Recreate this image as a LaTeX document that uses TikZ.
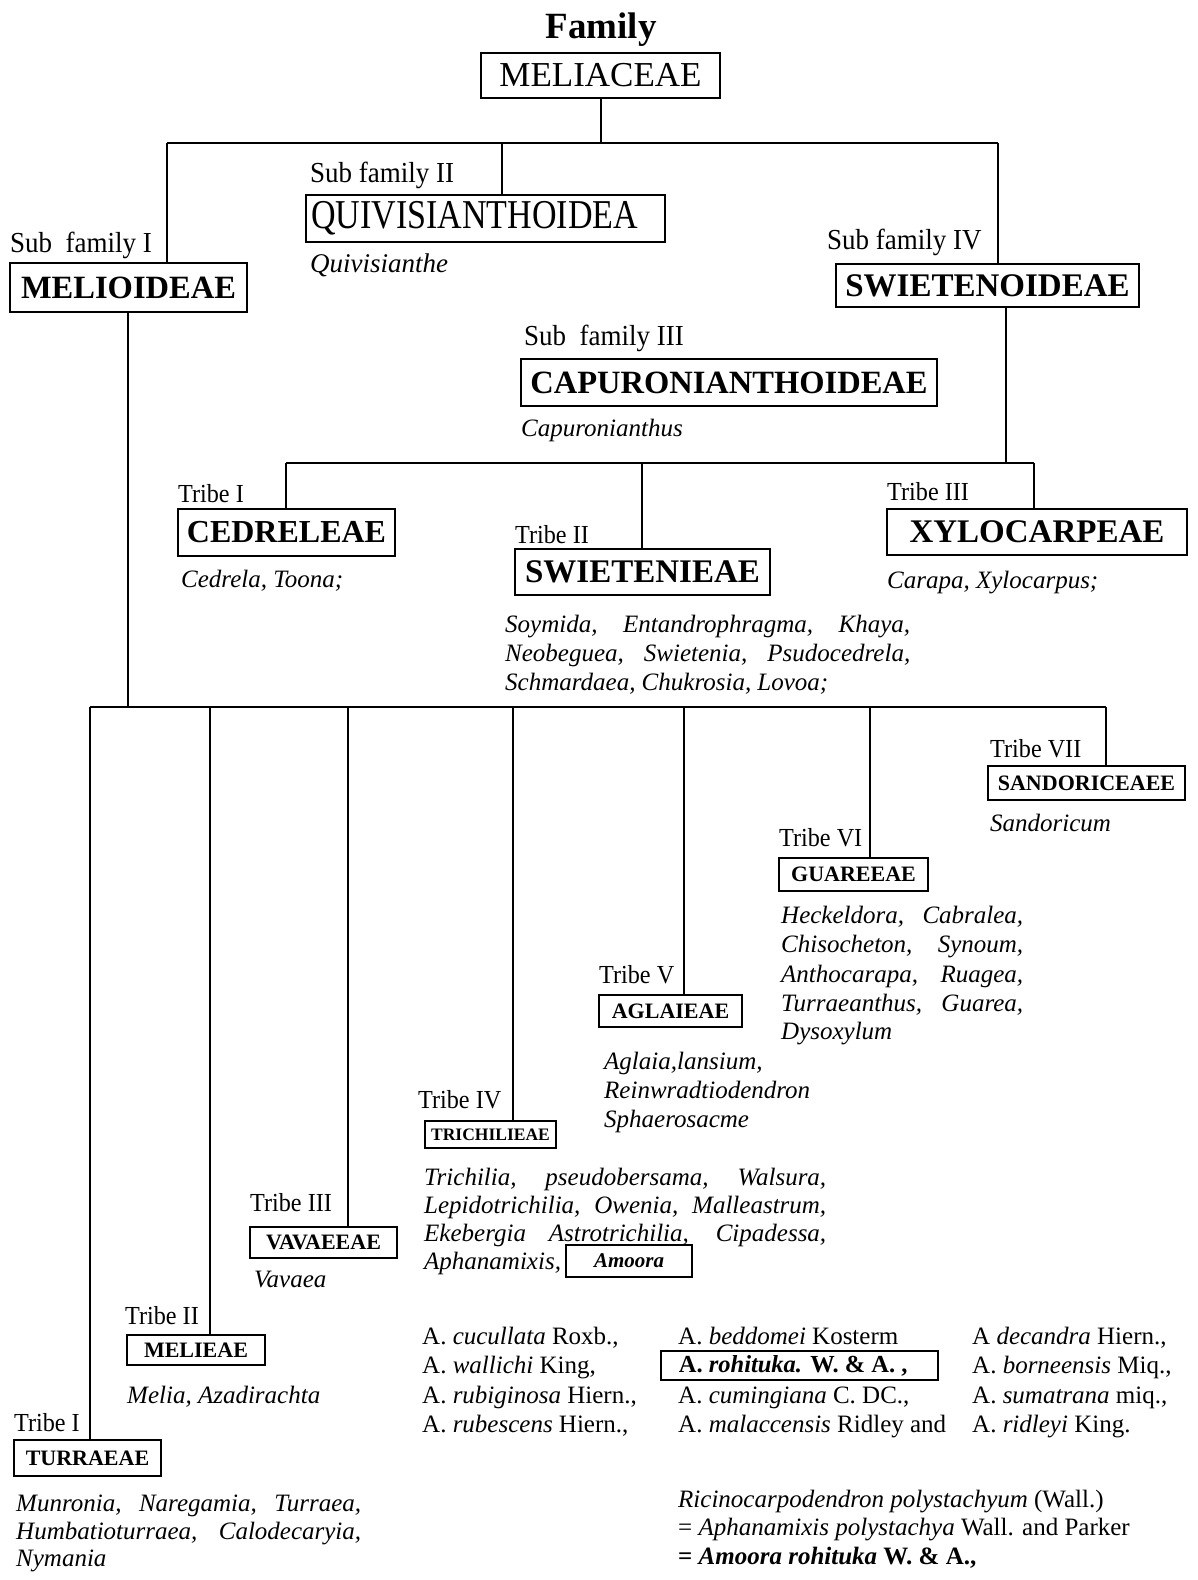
\documentclass[tikz,border=0pt]{standalone}
\usepackage{fontspec}
\setmainfont{Liberation Serif}
\newfontfamily\condA[FakeStretch=0.93]{Liberation Serif}
\newfontfamily\condB[FakeStretch=0.83]{Liberation Serif}
\newcommand\fsz[1]{\fontsize{#1}{#1}\selectfont}
\newcommand\justln[2]{\makebox[#1pt][s]{#2}}
\tikzset{
  conn/.style={line width=1.5pt},
  bar/.style={line width=2.2pt},
  namebox/.style={draw, line width=1.8pt, inner sep=0pt},
  lbl/.style={anchor=base west, inner sep=0pt},
  sublbl/.style={lbl, font=\condA\fsz{29}},
  tribelbl/.style={lbl, font=\condA\fsz{26}},
  gen/.style={lbl, font=\fsz{25}\itshape},
  spc/.style={lbl, font=\fsz{25}},
}
\begin{document}
\begin{tikzpicture}[x=1pt,y=-1pt]
\useasboundingbox (0,0) rectangle (1198,1580);
\fill[white] (0,0) rectangle (1198,1580);

% ---- family
\node[anchor=base, inner sep=0pt, font=\fsz{37}\bfseries] (family) at (601,38) {Family};
\node[namebox, minimum width=239pt, minimum height=45pt, font=\fsz{35}] (meliaceae) at (600.5,75.5) {MELIACEAE};

% ---- subfamilies
\node[namebox, minimum width=237pt, minimum height=49pt, font=\fsz{32.5}\bfseries] (melioideae) at (128.5,287.5) {MELIOIDEAE};
\node[namebox, text width=349pt, inner xsep=5pt, minimum height=47pt, align=left, font=\condB\fsz{41}] (quiv) at (485.5,218.5) {QUIVISIANTHOIDEA};
\node[namebox, minimum width=303pt, minimum height=43pt, font=\fsz{33}\bfseries] (swiet) at (987.5,285.5) {SWIETENOIDEAE};
\node[namebox, minimum width=416pt, minimum height=47pt, font=\fsz{32.5}\bfseries] (capur) at (729,382.5) {CAPURONIANTHOIDEAE};

\node[sublbl] (subI) at (10,252) {Sub\ \ family I};
\node[sublbl] (subII) at (310,182) {Sub family II};
\node[sublbl] (subIII) at (524,345) {Sub\ \ family III};
\node[sublbl] (subIV) at (827,249) {Sub family IV};
\node[gen, font=\fsz{27}\itshape] (quivg) at (310,272) {Quivisianthe};
\node[gen] (capg) at (521,436) {Capuronianthus};

% ---- tribes of Swietenoideae
\node[namebox, minimum width=217pt, minimum height=47pt, font=\fsz{32}\bfseries] (cedrel) at (286.5,532.5) {CEDRELEAE};
\node[namebox, minimum width=255pt, minimum height=46pt, font=\fsz{33}\bfseries] (swtn) at (642.5,572) {SWIETENIEAE};
\node[namebox, minimum width=300pt, minimum height=46pt, font=\fsz{33}\bfseries] (xylo) at (1037,532) {XYLOCARPEAE};
\node[tribelbl] (tI) at (178,502) {Tribe I};
\node[tribelbl] (tII) at (515,543) {Tribe II};
\node[tribelbl] (tIII) at (887,500) {Tribe III};
\node[gen] (cedg) at (181,587) {Cedrela, Toona;};
\node[gen] (swg1) at (505,632) {\justln{405}{Soymida, Entandrophragma, Khaya,}};
\node[gen] (swg2) at (505,661) {\justln{405}{Neobeguea, Swietenia, Psudocedrela,}};
\node[gen] (swg3) at (505,690) {Schmardaea, Chukrosia, Lovoa;};
\node[gen] (xyg) at (887,588) {Carapa, Xylocarpus;};

% ---- tribes of Melioideae
\node[namebox, minimum width=197pt, minimum height=34pt, font=\fsz{22}\bfseries] (sandor) at (1086.5,783) {SANDORICEAEE};
\node[namebox, minimum width=149pt, minimum height=33pt, font=\fsz{22}\bfseries] (guar) at (853.5,874.5) {GUAREEAE};
\node[namebox, minimum width=143pt, minimum height=32pt, font=\fsz{22}\bfseries] (aglai) at (670.5,1011) {AGLAIEAE};
\node[namebox, minimum width=131pt, minimum height=27pt, font=\fsz{17.5}\bfseries] (trich) at (490.5,1134.5) {TRICHILIEAE};
\node[namebox, minimum width=147pt, minimum height=31pt, font=\fsz{22}\bfseries] (vavae) at (323.5,1242.5) {VAVAEEAE};
\node[namebox, minimum width=138pt, minimum height=30pt, font=\fsz{22}\bfseries] (meliea) at (196,1350) {MELIEAE};
\node[namebox, minimum width=147pt, minimum height=36pt, font=\fsz{22}\bfseries] (turr) at (87.5,1458) {TURRAEAE};

\node[tribelbl] (tVII) at (990,757) {Tribe VII};
\node[gen] (sandg) at (990,831) {Sandoricum};

\node[tribelbl] (tVI) at (779,846) {Tribe VI};
\node[gen] (gu1) at (781,923) {\justln{242}{Heckeldora,\hfill Cabralea,}};
\node[gen] (gu2) at (781,952) {\justln{242}{Chisocheton,\hfill Synoum,}};
\node[gen] (gu3) at (781,982) {\justln{242}{Anthocarapa,\hfill Ruagea,}};
\node[gen] (gu4) at (781,1011) {\justln{242}{Turraeanthus,\hfill Guarea,}};
\node[gen] (gu5) at (781,1039) {Dysoxylum};

\node[tribelbl] (tV) at (599,983) {Tribe V};
\node[gen] (ag1) at (604,1069) {Aglaia,lansium,};
\node[gen] (ag2) at (604,1098) {Reinwradtiodendron};
\node[gen] (ag3) at (604,1127) {Sphaerosacme};

\node[tribelbl] (tIV) at (418,1108) {Tribe IV};
\node[gen] (tr1) at (424,1185) {\justln{402}{Trichilia, pseudobersama, Walsura,}};
\node[gen] (tr2) at (424,1213) {\justln{402}{Lepidotrichilia, Owenia, Malleastrum,}};
\node[gen] (tr3) at (424,1241) {\justln{402}{Ekebergia Astrotrichilia, Cipadessa,}};
\node[gen] (tr4) at (424,1269) {Aphanamixis,};
\node[namebox, minimum width=126pt, minimum height=32pt, font=\fsz{21}\bfseries\itshape] (amoora) at (629,1261) {Amoora};

\node[tribelbl] (tIIIb) at (250,1211) {Tribe III};
\node[gen] (vavg) at (254,1287) {Vavaea};

\node[tribelbl] (tIIb) at (125,1324) {Tribe II};
\node[gen] (melg) at (127,1403) {Melia, Azadirachta};

\node[tribelbl] (tIb) at (14,1431) {Tribe I};
\node[gen] (tu1) at (16,1511) {\justln{345}{Munronia, Naregamia, Turraea,}};
\node[gen] (tu2) at (16,1539) {\justln{345}{Humbatioturraea, Calodecaryia,}};
\node[gen] (tu3) at (16,1566) {Nymania};

% ---- species of Amoora
\node[spc] (a11) at (422,1344) {A. \textit{cucullata} Roxb.,};
\node[spc] (a12) at (422,1373) {A. \textit{wallichi} King,};
\node[spc] (a13) at (422,1403) {A. \textit{rubiginosa} Hiern.,};
\node[spc] (a14) at (422,1432) {A. \textit{rubescens} Hiern.,};
\node[spc] (a21) at (678,1344) {A. \textit{beddomei} Kosterm};
\node[namebox, anchor=west, minimum width=277pt, minimum height=29pt, font=\fsz{24.5}\bfseries] (a22) at (660,1365.5) {\makebox[277pt][l]{\hspace{18pt}A. \textit{rohituka.} W. \& A. ,}};
\node[spc] (a23) at (678,1403) {A. \textit{cumingiana} C. DC.,};
\node[spc] (a24) at (678,1432) {A. \textit{malaccensis} Ridley and};
\node[spc] (a31) at (972,1344) {A \textit{decandra} Hiern.,};
\node[spc] (a32) at (972,1373) {A. \textit{borneensis} Miq.,};
\node[spc] (a33) at (972,1403) {A. \textit{sumatrana} miq.,};
\node[spc] (a34) at (972,1432) {A. \textit{ridleyi} King.};

\node[spc] (ric1) at (678,1507) {\textit{Ricinocarpodendron polystachyum} (Wall.)};
\node[spc] (ric2) at (678,1535) {= \textit{Aphanamixis polystachya} Wall. and Parker};
\node[spc, font=\fsz{25}\bfseries] (ric3) at (678,1564) {= \textit{Amoora rohituka} W. \& A.,};

% ---- connectors
\coordinate (fj) at (601,143);
\coordinate (sjL) at (167,143);
\coordinate (sj2) at (502,143);
\coordinate (sjR) at (998,143);
\draw[conn] (meliaceae.south -| fj) -- (fj);
\draw[conn] (sjL) -- (sjR);
\draw[conn] (sjL) -- (melioideae.north -| sjL);
\draw[conn] (sj2) -- (quiv.north -| sj2);
\draw[conn] (sjR) -- (swiet.north -| sjR);

\coordinate (tj0) at (1006,463);
\coordinate (tjL) at (286,463);
\coordinate (tjM) at (642,463);
\coordinate (tjR) at (1034,463);
\draw[conn] (swiet.south -| tj0) -- (tj0);
\draw[bar] (tjL) -- (tjR);
\draw[conn] (tjL) -- (cedrel.north -| tjL);
\draw[conn] (tjM) -- (swtn.north -| tjM);
\draw[conn] (tjR) -- (xylo.north -| tjR);

\coordinate (mj0) at (128,707);
\coordinate (mj1) at (90,707);
\coordinate (mj2) at (210,707);
\coordinate (mj3) at (348,707);
\coordinate (mj4) at (513,707);
\coordinate (mj5) at (684,707);
\coordinate (mj6) at (870,707);
\coordinate (mj7) at (1106,707);
\draw[conn] (melioideae.south -| mj0) -- (mj0);
\draw[bar] (mj1) -- (mj7);
\draw[conn] (mj1) -- (turr.north -| mj1);
\draw[conn] (mj2) -- (meliea.north -| mj2);
\draw[conn] (mj3) -- (vavae.north -| mj3);
\draw[conn] (mj4) -- (trich.north -| mj4);
\draw[conn] (mj5) -- (aglai.north -| mj5);
\draw[conn] (mj6) -- (guar.north -| mj6);
\draw[conn] (mj7) -- (sandor.north -| mj7);
\end{tikzpicture}
\end{document}
